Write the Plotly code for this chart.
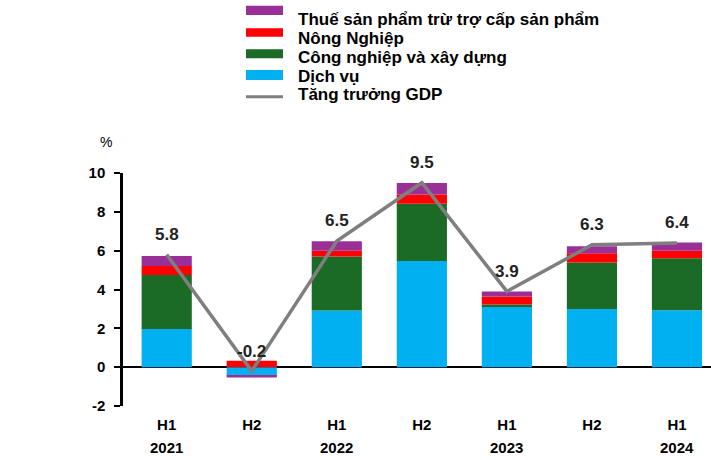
import plotly.graph_objects as go

periods = ["H1", "H2", "H1", "H2", "H1", "H2", "H1"]
years = ["2021", "", "2022", "", "2023", "", "2024"]
dich_vu = [1.97, -0.45, 2.92, 5.47, 3.14, 3.00, 2.93]
cong_nghiep = [2.78, 0.0, 2.78, 2.94, 0.09, 2.39, 2.68]
nong_nghiep = [0.46, 0.33, 0.29, 0.48, 0.41, 0.48, 0.38]
thue = [0.52, -0.08, 0.49, 0.59, 0.26, 0.36, 0.43]
gdp = [5.8, -0.2, 6.5, 9.5, 3.9, 6.3, 6.4]
gdp_labels = ["5.8", "-0.2", "6.5", "9.5", "3.9", "6.3", "6.4"]
y_ticks = [-2, 0, 2, 4, 6, 8, 10]
y_tick_labels = ["-2", "0", "2", "4", "6", "8", "10"]

names = ["Thuế sản phẩm trừ trợ cấp sản phẩm", "Nông Nghiệp", "Công nghiệp và xây dựng", "Dịch vụ", "Tăng trưởng GDP"]
C_PURPLE = "#9b2f98"
C_RED = "#ff0000"
C_GREEN = "#1b6b26"
C_BLUE = "#00b0f0"
C_GRAY = "#7f7f7f"

FONT = "Liberation Sans, Arial, sans-serif"
x = list(range(len(periods)))

fig = go.Figure()
for vals, col, nm in [(dich_vu, C_BLUE, names[3]), (cong_nghiep, C_GREEN, names[2]),
                      (nong_nghiep, C_RED, names[1]), (thue, C_PURPLE, names[0])]:
    fig.add_trace(go.Bar(x=x, y=vals, marker=dict(color=col, line=dict(width=0)),
                         width=0.59, name=nm, showlegend=False))
fig.add_trace(go.Scatter(x=x, y=gdp, mode="lines", line=dict(color=C_GRAY, width=3.5),
                         name=names[4], showlegend=False))

L, R, T, B = 123, 711, 173, 406
def px(v):
    return (v - L) / (R - L)
def py(v):
    return (B - v) / (B - T)

annotations = []
for xi, yi, t in zip(x, gdp, gdp_labels):
    annotations.append(dict(x=xi, y=yi, xref="x", yref="y", text=t, showarrow=False,
                            yshift=20, font=dict(family=FONT, size=17, color="#222222", weight="bold")))
for xi, yr in zip(x, years):
    if yr:
        annotations.append(dict(x=xi, y=py(447), xref="x", yref="paper", text=yr, showarrow=False,
                                yanchor="middle", font=dict(family=FONT, size=15, color="black", weight="bold")))
annotations.append(dict(x=px(106), y=py(142), xref="paper", yref="paper", text="%", showarrow=False,
                        xanchor="center", yanchor="middle", font=dict(family=FONT, size=14, color="black")))

# manual legend
shapes = []
boxes = [(5.7, 15, C_PURPLE), (28.3, 36.7, C_RED), (49.3, 58.3, C_GREEN), (70, 80, C_BLUE)]
for y0, y1, col in boxes:
    shapes.append(dict(type="rect", xref="paper", yref="paper", x0=px(246), x1=px(283),
                       y0=py(y1), y1=py(y0), fillcolor=col, line=dict(width=0)))
shapes.append(dict(type="line", xref="paper", yref="paper", x0=px(246), x1=px(283),
                   y0=py(96.7), y1=py(96.7), line=dict(color=C_GRAY, width=3)))
text_y = [19, 38, 57.5, 77, 94]
for nm, ty in zip(names, text_y):
    annotations.append(dict(x=px(296), y=py(ty), xref="paper", yref="paper", text=nm, showarrow=False,
                            xanchor="left", yanchor="middle",
                            font=dict(family=FONT, size=17, color="black", weight="bold")))

fig.update_layout(
    barmode="relative",
    width=711, height=460,
    margin=dict(l=L, r=711 - R, t=T, b=460 - B),
    paper_bgcolor="white", plot_bgcolor="white",
    showlegend=False,
    annotations=annotations,
    shapes=shapes,
    font=dict(family=FONT, color="black"),
)
fig.update_xaxes(range=[-0.514, 6.4], tickmode="array", tickvals=x, ticktext=periods,
                 showgrid=False, zeroline=False, showline=False, ticks="",
                 tickfont=dict(family=FONT, size=15, color="black", weight="bold"),
                 ticklabelstandoff=8, automargin=False)
fig.update_yaxes(range=[-2, 10], tickmode="array", tickvals=y_ticks, ticktext=y_tick_labels,
                 showgrid=False, zeroline=True, zerolinecolor="black", zerolinewidth=1.5,
                 showline=True, linecolor="black", linewidth=2.5,
                 ticks="outside", ticklen=6, tickwidth=2, tickcolor="black",
                 tickfont=dict(family=FONT, size=15, color="black", weight="bold"),
                 ticklabelstandoff=6, automargin=False)

fig.write_html("out.html", config={"displayModeBar": False},
               post_script="document.body.style.margin='0px';document.body.style.overflow='hidden';")
